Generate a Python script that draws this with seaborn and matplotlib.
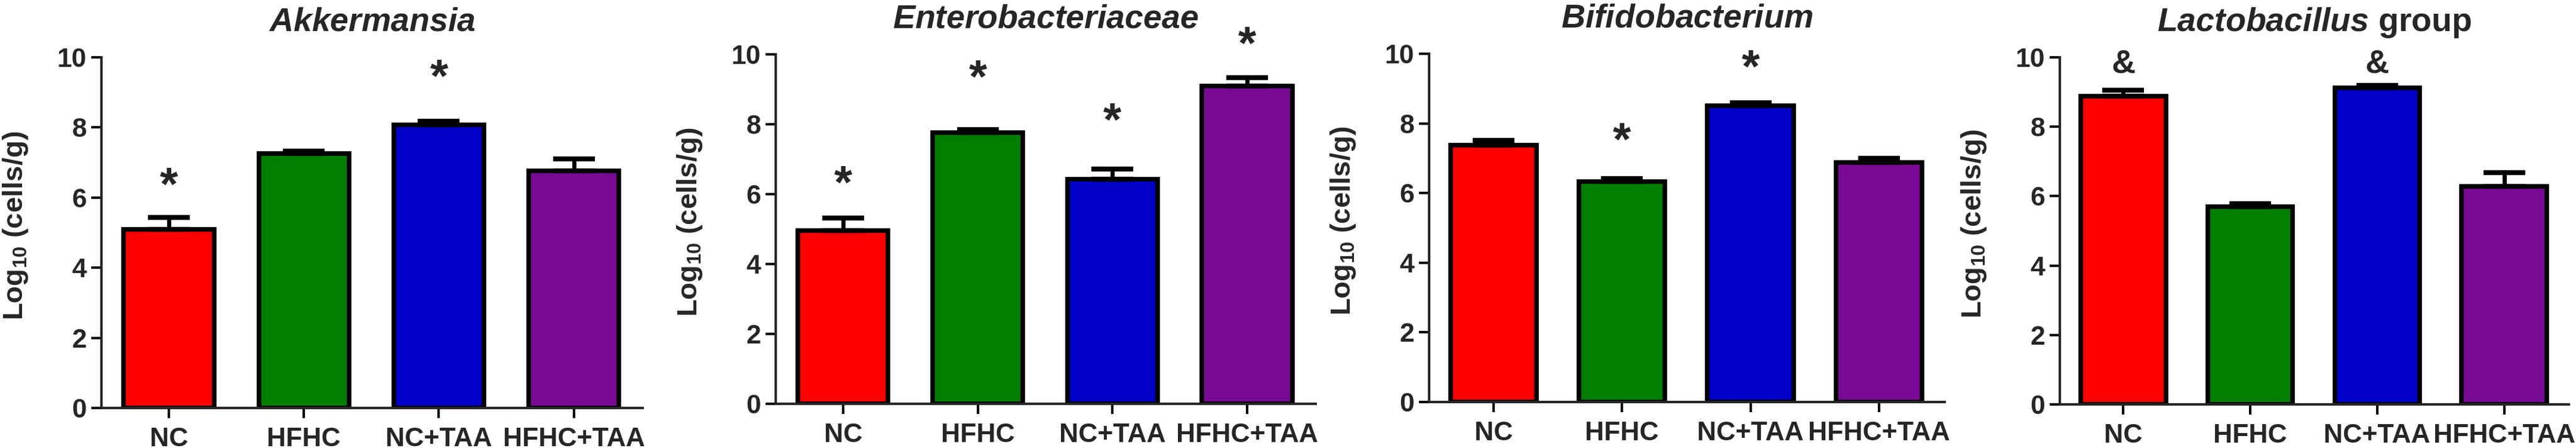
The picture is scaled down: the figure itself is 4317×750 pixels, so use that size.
import numpy as np
import pandas as pd
import matplotlib
matplotlib.use("Agg")
import matplotlib.pyplot as plt
import seaborn as sns
from matplotlib.textpath import TextPath
from matplotlib.font_manager import FontProperties

# ---------------- data ----------------
groups = ["NC", "HFHC", "NC+TAA", "HFHC+TAA"]
bar_colors = ["#FF0000", "#007F00", "#0000C8", "#780A96"]

titles = [r"$\mathit{Akkermansia}$", r"$\mathit{Enterobacteriaceae}$",
          r"$\mathit{Bifidobacterium}$", r"$\mathit{Lactobacillus}$ group"]

akk_mean = [5.10, 7.25, 8.08, 6.76]
akk_sem = [0.34, 0.08, 0.09, 0.35]
akk_sig = ["*", "", "*", ""]
akk_sig_y = [6.60, np.nan, 9.68, np.nan]

ent_mean = [4.95, 7.76, 6.43, 9.10]
ent_sem = [0.37, 0.09, 0.29, 0.23]
ent_sig = ["*", "*", "*", "*"]
ent_sig_y = [6.55, 9.57, 8.35, 10.53]

bif_mean = [7.37, 6.33, 8.50, 6.87]
bif_sem = [0.14, 0.08, 0.09, 0.13]
bif_sig = ["", "*", "*", ""]
bif_sig_y = [np.nan, 7.75, 9.84, np.nan]

lac_mean = [8.88, 5.70, 9.13, 6.29]
lac_sem = [0.18, 0.08, 0.06, 0.38]
lac_sig = ["&", "", "&", ""]
lac_sig_y = [9.88, np.nan, 9.88, np.nan]

y_ticks = [0, 2, 4, 6, 8, 10]
y_label = r"Log$_{10}$ (cells/g)"

panels = [
    (titles[0], akk_mean, akk_sem, akk_sig, akk_sig_y),
    (titles[1], ent_mean, ent_sem, ent_sig, ent_sig_y),
    (titles[2], bif_mean, bif_sem, bif_sig, bif_sig_y),
    (titles[3], lac_mean, lac_sem, lac_sig, lac_sig_y),
]

# ---------------- style ----------------
sns.set_style("ticks")
plt.rcParams["font.family"] = ["Liberation Sans", "DejaVu Sans"]
plt.rcParams["font.weight"] = "bold"
plt.rcParams["mathtext.fontset"] = "custom"
plt.rcParams["mathtext.rm"] = "Liberation Sans:bold"
plt.rcParams["mathtext.bf"] = "Liberation Sans:bold"
plt.rcParams["mathtext.it"] = "Liberation Sans:bold:italic"
plt.rcParams["axes.linewidth"] = 3

W, H = 4317, 750
fig = plt.figure(figsize=(W / 100, H / 100), dpi=100)

# axes rectangles in pixels: left, y(0) pixel, right, y(10) pixel
rects_px = [(170, 683, 1077, 96), (1300, 676, 2205, 91),
            (2395, 673, 3259, 90), (3452, 677, 4305, 96)]

sig_font = FontProperties(family="Liberation Sans", weight="bold")


def ink_center(sym, size):
    ext = TextPath((0, 0), sym, size=size, prop=sig_font).get_extents()
    return (ext.y0 + ext.y1) / 2.0


sig_sizes = {"*": 56, "&": 40}

for (title, mean, sem, sig, sig_y), (l, b0, r, t10) in zip(panels, rects_px):
    ax = fig.add_axes([l / W, 1 - b0 / H, (r - l) / W, (b0 - t10) / H])
    df = pd.DataFrame({"group": groups, "value": mean})
    sns.barplot(data=df, x="group", y="value", hue="group", palette=bar_colors,
                dodge=False, legend=False, width=0.67, saturation=1,
                edgecolor="black", linewidth=5.5, errorbar=None, ax=ax, zorder=2)
    xpos = np.arange(len(groups))
    ax.errorbar(xpos, mean, yerr=[np.zeros(len(mean)), sem], fmt="none",
                ecolor="black", elinewidth=5, capsize=25, capthick=6, zorder=3)
    for xi, s, sy in zip(xpos, sig, sig_y):
        if s:
            fs = sig_sizes[s]
            ax.annotate(s, xy=(xi, sy), xytext=(0, -ink_center(s, fs)),
                        textcoords="offset points", ha="center", va="baseline",
                        fontsize=fs, fontweight="bold", annotation_clip=False)
    ax.set_xlim(-0.5, 3.51)
    ax.set_ylim(0, 10)
    ax.set_yticks(y_ticks)
    sns.despine(ax=ax)
    ax.spines["left"].set_linewidth(3)
    ax.spines["bottom"].set_linewidth(3)
    ax.tick_params(axis="both", length=12, width=3, direction="out",
                   labelsize=32, color="black")
    ax.tick_params(axis="x", pad=11)
    ax.tick_params(axis="y", pad=6)
    for lbl in ax.get_xticklabels() + ax.get_yticklabels():
        lbl.set_fontweight("bold")
    ax.set_xlabel("")
    ax.set_ylabel(y_label, fontsize=34, fontweight="bold", labelpad=33)
    ax.yaxis.label.set_y(0.52)
    ax.set_title(title, fontsize=40, fontweight="bold", pad=32)

fig.savefig("out.png", dpi=100, facecolor="white")
